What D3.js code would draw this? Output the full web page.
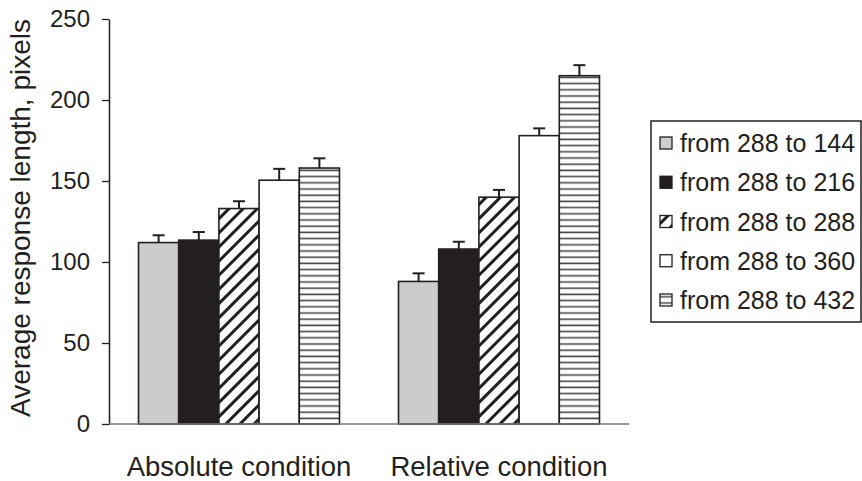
<!DOCTYPE html>
<html>
<head>
<meta charset="utf-8">
<script src="https://cdn.jsdelivr.net/npm/d3@7"></script>
<style>
  body { margin: 0; background: #fff; }
  text { font-family: "Liberation Sans", Arial, sans-serif; fill: #231f20; }
</style>
</head>
<body>
<script>
const width = 862;
const height = 481;

// データ
const conditions = ["Absolute condition", "Relative condition"];
const seriesNames = ["from 288 to 144", "from 288 to 216", "from 288 to 288", "from 288 to 360", "from 288 to 432"];
const absoluteValues = [112, 113.5, 133, 150.5, 158];
const relativeValues = [88, 108, 140, 178, 215];
const absoluteErrors = [4.5, 5, 4.5, 7, 6];
const relativeErrors = [5, 4.5, 4.5, 4.5, 6.5];
const yTicks = [0, 50, 100, 150, 200, 250];

const values = [absoluteValues, relativeValues];
const errors = [absoluteErrors, relativeErrors];
const ink = "#231f20";

const svg = d3.select("body").append("svg")
  .attr("width", width)
  .attr("height", height);

// 模様
const defs = svg.append("defs");
const hatch = defs.append("pattern")
  .attr("id", "hatch")
  .attr("patternUnits", "userSpaceOnUse")
  .attr("width", 10).attr("height", 10)
  .attr("patternTransform", "rotate(45)");
hatch.append("rect").attr("width", 10).attr("height", 10).attr("fill", "#fff");
hatch.append("line")
  .attr("x1", 0).attr("y1", 0).attr("x2", 0).attr("y2", 10)
  .attr("stroke", ink).attr("stroke-width", 6);

const hlines = defs.append("pattern")
  .attr("id", "hlines")
  .attr("patternUnits", "userSpaceOnUse")
  .attr("width", 20).attr("height", 6.2);
hlines.append("rect").attr("width", 20).attr("height", 6.2).attr("fill", "#fff");
hlines.append("line")
  .attr("x1", 0).attr("y1", 3).attr("x2", 20).attr("y2", 3)
  .attr("stroke", "#4a4a4a").attr("stroke-width", 1.6);

const fills = ["#cccccc", ink, "url(#hatch)", "#ffffff", "url(#hlines)"];

// スケール
const x = d3.scaleBand()
  .domain(conditions)
  .range([109, 629])
  .paddingInner(0.227)
  .paddingOuter(0.1135);

const xs = d3.scaleBand()
  .domain(seriesNames)
  .range([0, x.bandwidth()]);

const y = d3.scaleLinear()
  .domain([0, 250])
  .range([424, 19]);

// 棒
const groups = svg.append("g").selectAll("g")
  .data(conditions)
  .join("g")
  .attr("transform", d => `translate(${x(d)},0)`);

groups.selectAll("rect")
  .data((d, i) => seriesNames.map((s, j) => ({ s, j, v: values[i][j], e: errors[i][j] })))
  .join("rect")
  .attr("x", d => xs(d.s))
  .attr("y", d => y(d.v))
  .attr("width", xs.bandwidth())
  .attr("height", d => y(0) - y(d.v))
  .attr("fill", d => fills[d.j])
  .attr("stroke", ink)
  .attr("stroke-width", 1.6);

// 誤差棒
const errG = groups.selectAll("g.err")
  .data((d, i) => seriesNames.map((s, j) => ({ s, j, v: values[i][j], e: errors[i][j] })))
  .join("g")
  .attr("class", "err")
  .attr("stroke", ink)
  .attr("stroke-width", 2);

errG.append("line")
  .attr("x1", d => xs(d.s) + xs.bandwidth() / 2)
  .attr("x2", d => xs(d.s) + xs.bandwidth() / 2)
  .attr("y1", d => y(d.v))
  .attr("y2", d => y(d.v + d.e));
errG.append("line")
  .attr("x1", d => xs(d.s) + xs.bandwidth() / 2 - 6)
  .attr("x2", d => xs(d.s) + xs.bandwidth() / 2 + 6)
  .attr("y1", d => y(d.v + d.e))
  .attr("y2", d => y(d.v + d.e));

// 軸
const yAxis = svg.append("g")
  .attr("transform", "translate(109,0)")
  .call(d3.axisLeft(y).tickValues(yTicks).tickSize(7).tickSizeOuter(0).tickPadding(12));
yAxis.select(".domain").attr("stroke", ink).attr("stroke-width", 1.5);
yAxis.selectAll(".tick line").attr("stroke", ink).attr("stroke-width", 1.3);
yAxis.selectAll(".tick text")
  .style("font-size", "24px")
  .style("font-family", "'Liberation Sans', Arial, sans-serif")
  .attr("fill", ink);

svg.append("line")
  .attr("x1", 109).attr("x2", 629)
  .attr("y1", y(0)).attr("y2", y(0))
  .attr("stroke", "#777")
  .attr("stroke-width", 1.6);

// 軸ラベル
svg.append("g").selectAll("text")
  .data(conditions)
  .join("text")
  .attr("x", d => x(d) + x.bandwidth() / 2)
  .attr("y", 476)
  .attr("text-anchor", "middle")
  .style("font-size", "27.5px")
  .text(d => d);

svg.append("text")
  .attr("transform", "translate(30,218) rotate(-90)")
  .attr("text-anchor", "middle")
  .style("font-size", "28px")
  .text("Average response length, pixels");

// 凡例
const legend = svg.append("g");
legend.append("rect")
  .attr("x", 651).attr("y", 121)
  .attr("width", 210).attr("height", 201)
  .attr("fill", "#fff")
  .attr("stroke", ink)
  .attr("stroke-width", 1.5);

const items = legend.selectAll("g.item")
  .data(seriesNames)
  .join("g")
  .attr("class", "item")
  .attr("transform", (d, i) => `translate(660,${143 + i * 39.25})`);

items.append("rect")
  .attr("x", 0).attr("y", -6)
  .attr("width", 12).attr("height", 12)
  .attr("fill", (d, i) => fills[i])
  .attr("stroke", ink)
  .attr("stroke-width", 1.3);

items.append("text")
  .attr("x", 20)
  .attr("dy", "0.36em")
  .style("font-size", "25px")
  .text(d => d);
</script>
</body>
</html>
